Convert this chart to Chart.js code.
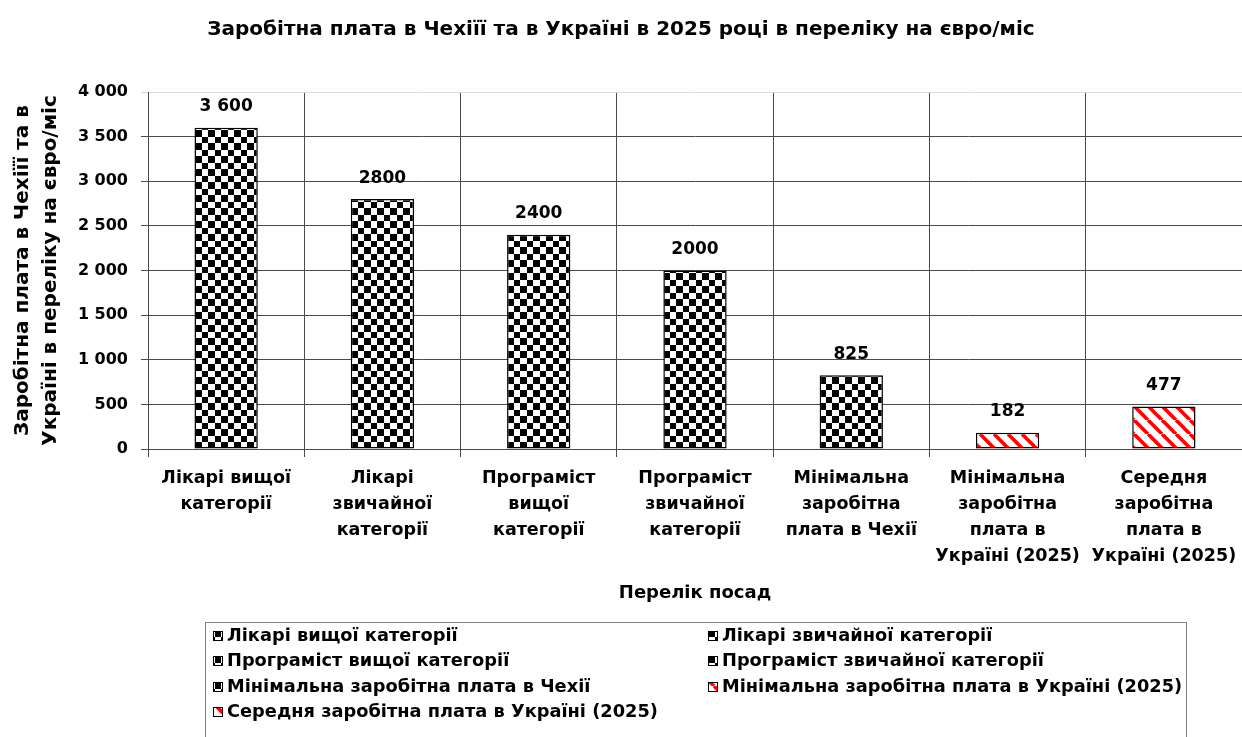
<!DOCTYPE html>
<html>
<head>
<meta charset="utf-8">
<script src="https://cdn.jsdelivr.net/npm/chart.js@4.4.1/dist/chart.umd.min.js"></script>
<style>
  html, body { margin: 0; padding: 0; background: #fff; }
  #wrap { width: 1242px; height: 737px; }
</style>
</head>
<body>
<div id="wrap"><canvas id="salaryChart" width="1242" height="737"></canvas></div>
<script>
// Chart data
const chartTitle = "Заробітна плата в Чехіїї та в Україні в 2025 році в переліку на євро/міс";
const yTitle = ["Заробітна плата в Чехіїї та в", "Україні в переліку на євро/міс"];
const xTitle = "Перелік посад";

const categories = [
  ["Лікарі вищої", "категорії"],
  ["Лікарі", "звичайної", "категорії"],
  ["Програміст", "вищої", "категорії"],
  ["Програміст", "звичайної", "категорії"],
  ["Мінімальна", "заробітна", "плата в Чехії"],
  ["Мінімальна", "заробітна", "плата в", "Україні (2025)"],
  ["Середня", "заробітна", "плата в", "Україні (2025)"],
];
const legendNames = [
  "Лікарі вищої категорії",
  "Лікарі звичайної категорії",
  "Програміст вищої категорії",
  "Програміст звичайної категорії",
  "Мінімальна заробітна плата в Чехії",
  "Мінімальна заробітна плата в Україні (2025)",
  "Середня заробітна плата в Україні (2025)",
];
const salaries = [3600, 2800, 2400, 2000, 825, 182, 477];
const valueLabels = ["3 600", "2800", "2400", "2000", "825", "182", "477"];
const fillKinds = ["check", "check", "check", "check", "check", "stripe", "stripe"];
const yMin = 0;
const yMax = 4000;
const yStep = 500;

const FONT = "'DejaVu Sans', 'Liberation Sans', Arial, sans-serif";
Chart.defaults.font.family = FONT;
Chart.defaults.color = "#000";

function makeChecker(ctx) {
  const c = document.createElement("canvas");
  c.width = 13;
  c.height = 13;
  const g = c.getContext("2d");
  g.fillStyle = "#fff";
  g.fillRect(0, 0, 13, 13);
  g.fillStyle = "#000";
  g.fillRect(0, 0, 7, 7);
  g.fillRect(7, 7, 6, 6);
  return ctx.createPattern(c, "repeat");
}

function makeStripes(ctx) {
  const s = 14;
  const c = document.createElement("canvas");
  c.width = s;
  c.height = s;
  const g = c.getContext("2d");
  g.fillStyle = "#fff";
  g.fillRect(0, 0, s, s);
  g.strokeStyle = "#ff0000";
  g.lineWidth = 3.6;
  for (let k = -1; k <= 1; k += 1) {
    g.beginPath();
    g.moveTo(k * s, 0);
    g.lineTo(k * s + s, s);
    g.stroke();
  }
  return ctx.createPattern(c, "repeat");
}

function fmtThousands(v) {
  return String(v).replace(/\B(?=(\d{3})+(?!\d))/g, " ");
}

// labels above the bars
const valueLabelPlugin = {
  id: "valueLabels",
  afterDatasetsDraw(chart) {
    const ctx = chart.ctx;
    const meta = chart.getDatasetMeta(0);
    ctx.save();
    ctx.font = "bold 17px " + FONT;
    ctx.fillStyle = "#000";
    ctx.textAlign = "center";
    ctx.textBaseline = "middle";
    meta.data.forEach((bar, i) => {
      ctx.fillText(valueLabels[i], bar.x, bar.y - 21);
    });
    ctx.restore();
  },
};

// two column boxed legend like the spreadsheet one
const boxLegendPlugin = {
  id: "boxLegend",
  afterDraw(chart) {
    const ctx = chart.ctx;
    const ds = chart.data.datasets[0];
    const left = 205;
    const top = 622;
    const width = 981;
    const colX = [213, 708];
    const rowY = [636, 661, 687, 712];
    ctx.save();
    ctx.strokeStyle = "#808080";
    ctx.lineWidth = 1;
    ctx.strokeRect(left + 0.5, top + 0.5, width, 140);
    ctx.font = "bold 17.8px " + FONT;
    ctx.textBaseline = "middle";
    ctx.textAlign = "left";
    legendNames.forEach((name, i) => {
      const x = colX[i % 2];
      const y = rowY[Math.floor(i / 2)];
      ctx.fillStyle = ds.backgroundColor[i];
      ctx.fillRect(x, y - 5, 10, 10);
      ctx.strokeStyle = "#000";
      ctx.strokeRect(x + 0.5, y - 4.5, 9, 9);
      ctx.fillStyle = "#000";
      ctx.fillText(name, x + 14, y);
    });
    ctx.restore();
  },
};

const canvas = document.getElementById("salaryChart");
const ctx = canvas.getContext("2d");
const checker = makeChecker(ctx);
const stripes = makeStripes(ctx);
const fills = fillKinds.map((k) => (k === "check" ? checker : stripes));

new Chart(ctx, {
  type: "bar",
  data: {
    labels: categories,
    datasets: [
      {
        label: "Заробітна плата",
        data: salaries,
        backgroundColor: fills,
        borderColor: "#000",
        borderWidth: 1.5,
        borderSkipped: false,
        categoryPercentage: 1,
        barPercentage: 0.405,
      },
    ],
  },
  options: {
    responsive: false,
    devicePixelRatio: 1,
    animation: false,
    layout: {
      padding: { top: 0, left: 0, right: 0, bottom: 125 },
    },
    plugins: {
      legend: { display: false },
      tooltip: { enabled: false },
      title: {
        display: true,
        text: chartTitle,
        color: "#000",
        font: { size: 20, weight: "bold", lineHeight: 1.2 },
        padding: { top: 18, bottom: 50 },
      },
    },
    scales: {
      x: {
        offset: true,
        grid: {
          offset: true,
          color: "#4a4a4a",
          lineWidth: 1,
          tickLength: 8,
        },
        border: { color: "#4a4a4a", width: 1 },
        ticks: {
          autoSkip: false,
          maxRotation: 0,
          padding: 9,
          color: "#000",
          font: { size: 17.5, weight: "bold", lineHeight: 1.48 },
        },
        title: {
          display: true,
          text: xTitle,
          color: "#000",
          font: { size: 18, weight: "bold" },
          padding: { top: 0, bottom: 8 },
        },
        afterFit: (scale) => {
          scale.height = 163;
          scale.paddingLeft = 0;
          scale.paddingRight = 0;
        },
      },
      y: {
        min: yMin,
        max: yMax,
        grid: {
          color: (c) => (c.tick && c.tick.value === yMax ? "#dcdcdc" : "#4a4a4a"),
          lineWidth: 1,
          tickLength: 7,
        },
        border: { color: "#4a4a4a", width: 1 },
        ticks: {
          stepSize: yStep,
          padding: 13,
          color: "#000",
          font: { size: 16, weight: "bold" },
          callback: (v) => fmtThousands(v),
        },
        title: {
          display: true,
          text: yTitle,
          color: "#000",
          font: { size: 20, weight: "bold", lineHeight: 1.4 },
          padding: { top: 9, bottom: 0 },
        },
        afterFit: (scale) => {
          scale.width = 148;
        },
      },
    },
  },
  plugins: [valueLabelPlugin, boxLegendPlugin],
});
</script>
</body>
</html>
